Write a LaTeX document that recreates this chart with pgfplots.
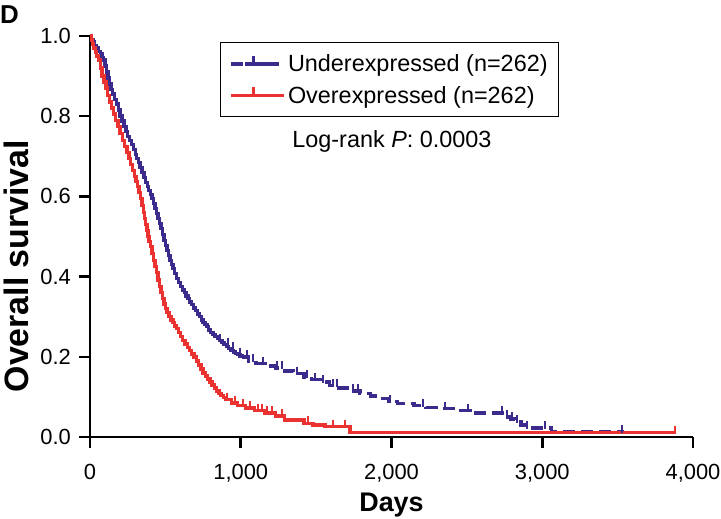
\documentclass[border=0pt]{standalone}
\usepackage{pgfplots}
\pgfplotsset{compat=1.18}
\usepackage{fontspec}
\setmainfont{Liberation Sans}
\definecolor{kmblue}{RGB}{60,42,140}
\definecolor{kmred}{RGB}{234,50,48}
\begin{document}
\begin{tikzpicture}
\useasboundingbox (-90bp,-82bp) rectangle (631bp,437bp);
\begin{axis}[
  at={(0,0)}, anchor=south west,
  scale only axis, width=603bp, height=401bp,
  xmin=0, xmax=4000, ymin=0, ymax=1,
  clip=false,
  axis x line*=bottom, axis y line*=left,
  axis line style={line width=2.6bp, black},
  tick align=outside,
  major tick length=11bp,
  tick style={line width=2.6bp, black},
  xtick={0,1000,2000,3000,4000},
  xticklabels={0,{1,000},{2,000},{3,000},{4,000}},
  ytick={0,0.2,0.4,0.6,0.8,1.0},
  yticklabels={0.0,0.2,0.4,0.6,0.8,1.0},
  tick label style={font=\fontsize{22}{26}\selectfont},
  xticklabel style={anchor=base, inner sep=0pt, yshift=-31bp},
  yticklabel style={anchor=east, inner sep=0pt, xshift=-8bp},
  xlabel={\bfseries Days},
  ylabel={\bfseries Overall survival},
  xlabel style={at={(axis description cs:0.5,-0.187)}, anchor=base, inner sep=0pt, font=\fontsize{27}{32}\selectfont},
  ylabel style={at={(axis description cs:-0.1028,0.426)}, anchor=base, inner sep=0pt, font=\fontsize{34}{40}\selectfont},
  legend style={at={(axis description cs:0.2156,0.985)}, anchor=north west,
     draw=black, line width=1.2bp, font=\fontsize{23.5}{28}\selectfont,
     inner xsep=9bp, inner ysep=10bp, row sep=9bp,
     nodes={inner sep=2bp}},
  legend cell align=left,
]
% Underexpressed, solid early part
\addplot[const plot, kmblue, line width=3.4bp, forget plot] coordinates {
(0,1.0) (10,0.99) (20,0.985) (30,0.977) (45,0.97) (55,0.962) (70,0.955)
(80,0.947) (90,0.94) (100,0.925) (110,0.91) (120,0.895) (130,0.88)
(140,0.867) (150,0.855) (162,0.842) (175,0.83) (188,0.815) (200,0.8)
(212,0.788) (225,0.775) (238,0.762) (250,0.75) (262,0.74) (275,0.73)
(288,0.717) (300,0.705) (310,0.695) (320,0.685) (332,0.672) (345,0.66)
(358,0.647) (370,0.635) (380,0.625) (390,0.615) (400,0.605) (410,0.595)
(420,0.582) (430,0.57) (440,0.557) (450,0.545) (460,0.532) (470,0.52)
(480,0.505) (490,0.49) (500,0.477) (510,0.465) (520,0.452) (530,0.44)
(540,0.43) (550,0.42) (562,0.407) (575,0.395) (588,0.385) (600,0.375)
(612,0.367) (625,0.36) (638,0.352) (650,0.345) (662,0.337) (675,0.33)
(688,0.322) (700,0.315) (712,0.307) (725,0.3) (738,0.292) (750,0.285)
(762,0.28) (775,0.275) (788,0.267) (800,0.26) (815,0.255) (830,0.25)
(845,0.245) (860,0.24) (875,0.235) (890,0.23) (905,0.225) (920,0.22)
(935,0.216) (950,0.212) (965,0.208) (980,0.205) (995,0.202) (1010,0.2)
};
% Underexpressed, dashed later part
\addplot[const plot, kmblue, line width=3.4bp, dash pattern=on 12bp off 6bp,
  legend image code/.code={
    \path (0bp,0bp) -- (53bp,0bp);
    \draw[kmblue, line width=3.4bp, dash pattern=on 9bp off 5bp] (0bp,0bp) -- (45bp,0bp);
    \draw[kmblue, line width=2.4bp] (22bp,-1bp) -- (22bp,8bp);}
] coordinates {
(1010,0.2) (1050,0.19) (1100,0.183) (1160,0.177) (1230,0.172) (1290,0.165)
(1350,0.158) (1420,0.15) (1470,0.143) (1530,0.137) (1590,0.128) (1650,0.122)
(1720,0.115) (1790,0.108) (1860,0.102) (1920,0.096) (1980,0.088) (2040,0.083)
(2150,0.078) (2230,0.074) (2330,0.071) (2440,0.066) (2520,0.06) (2750,0.05)
(2790,0.045) (2820,0.037) (2860,0.03) (2890,0.022) (3060,0.012) (3540,0.012)
};
\addlegendentry{Underexpressed (n=262)}
% censor marks, underexpressed
\addplot[only marks, kmblue, mark=|, mark size=4bp, line width=2.4bp,
  every mark/.append style={yshift=3bp}, forget plot] coordinates {
(862,0.24) (915,0.23) (949,0.22) (995,0.205) (1041,0.2) (1081,0.19)
(1148,0.183) (1240,0.172) (1274,0.172) (1373,0.158) (1439,0.15) (1493,0.143)
(1546,0.137) (1612,0.128) (1638,0.128) (1745,0.115) (1778,0.115) (1990,0.088)
(2209,0.078) (2355,0.071) (2507,0.066) (2733,0.06) (2766,0.05) (2799,0.045)
(2832,0.037) (2899,0.022) (3018,0.022) (3530,0.012)
};
% Overexpressed
\addplot[const plot, kmred, line width=3.4bp,
  legend image code/.code={
    \path (0bp,0bp) -- (53bp,0bp);
    \draw[kmred, line width=3.4bp] (0bp,0bp) -- (45bp,0bp);
    \draw[kmred, line width=2.4bp] (22bp,-1bp) -- (22bp,8bp);}
] coordinates {
(0,1.0) (8,0.99) (15,0.98) (25,0.97) (35,0.96) (45,0.95) (55,0.94)
(68,0.92) (80,0.9) (92,0.885) (105,0.87) (118,0.852) (130,0.835)
(142,0.82) (155,0.805) (170,0.79) (185,0.775) (200,0.757) (215,0.74)
(230,0.725) (245,0.71) (258,0.695) (270,0.68) (282,0.665) (295,0.65)
(305,0.637) (315,0.625) (325,0.61) (335,0.595) (345,0.577) (355,0.56)
(362,0.545) (370,0.53) (378,0.515) (385,0.5) (392,0.487) (400,0.475)
(410,0.457) (420,0.44) (430,0.425) (440,0.41) (450,0.392) (460,0.375)
(470,0.36) (480,0.345) (490,0.332) (500,0.32) (512,0.31) (525,0.3)
(538,0.292) (550,0.285) (562,0.277) (575,0.27) (588,0.26) (600,0.25)
(615,0.241) (630,0.232) (645,0.223) (660,0.215) (675,0.207) (690,0.2)
(705,0.19) (720,0.18) (735,0.17) (750,0.16) (765,0.152) (780,0.145)
(795,0.137) (810,0.13) (825,0.122) (840,0.115) (855,0.109) (870,0.103)
(885,0.098) (900,0.093) (940,0.085) (980,0.078) (1030,0.072) (1090,0.066)
(1160,0.06) (1230,0.052) (1290,0.042) (1420,0.034) (1480,0.03) (1560,0.026)
(1725,0.011) (3880,0.011)
};
\addlegendentry{Overexpressed (n=262)}
% censor marks, overexpressed
\addplot[only marks, kmred, mark=|, mark size=4bp, line width=2.4bp,
  every mark/.append style={yshift=3bp}, forget plot] coordinates {
(909,0.093) (962,0.085) (1015,0.078) (1061,0.072) (1114,0.066) (1141,0.066)
(1174,0.06) (1207,0.06) (1274,0.052) (1446,0.034) (1612,0.026) (1692,0.026)
(3880,0.011)
};
\node[font=\fontsize{23.5}{28}\selectfont, anchor=center] at (axis cs:2003,0.738) {Log-rank \textit{P}: 0.0003};
\end{axis}
\node[anchor=base west, inner sep=0pt, font=\fontsize{26}{30}\selectfont\bfseries] at (-90bp,413bp) {D};
\end{tikzpicture}
\end{document}
